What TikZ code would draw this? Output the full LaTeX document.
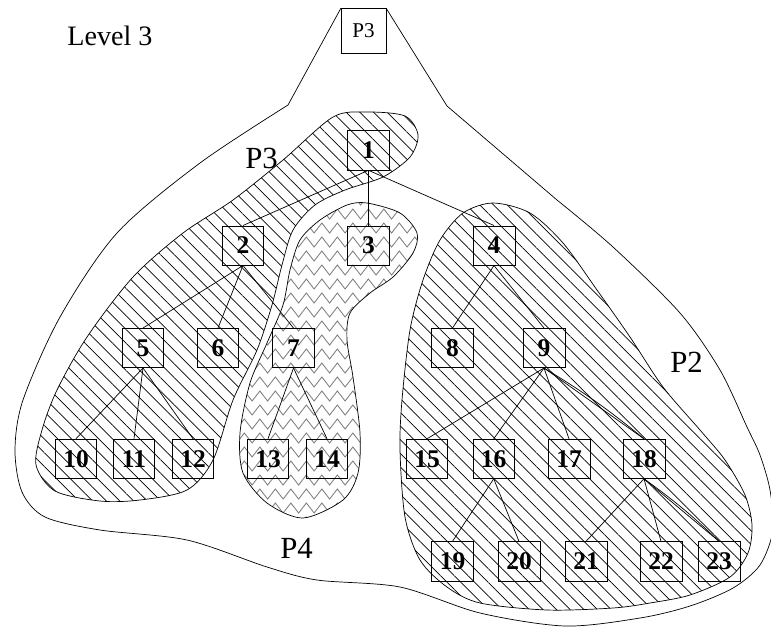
\documentclass[tikz,border=0pt]{standalone}
\usepackage{fontspec}
\setmainfont{Liberation Serif}
\usetikzlibrary{patterns.meta,decorations.pathmorphing}

\tikzset{
  box/.style={draw, minimum width=0.834cm, minimum height=0.786cm, inner sep=0pt,
    font=\fontsize{14.5}{16}\selectfont\bfseries},
  part/.style={anchor=base west, inner sep=0pt, font=\fontsize{17.5}{20}\selectfont},
  hatch/.style={draw, pattern={Lines[angle=-45,distance=5.5pt,line width=0.4pt]}},
  wave/.style={gray, line width=0.5pt, decorate,
    decoration={zigzag, segment length=0.31cm, amplitude=0.1cm}}
}

\begin{document}
\begin{tikzpicture}[x=0.02cm, y=-0.02cm]
\useasboundingbox (0,0) rectangle (771,627);

% Level 3 outline, hanging from the P3 box
\draw (341,8) -- (288,105) -- plot[smooth] coordinates {(288,105) (200,163) (117,233) (60,317)
  (23,400) (15,450) (22,492) (45,517) (100,530) (187,540) (267,567) (317,580) (400,587)
  (480,613) (565,626) (640,618) (690,606) (733,588) (760,565) (773,530) (770,490) (760,455)
  (747,427) (720,370) (680,313) (613,247) (557,200)} -- (447,106) -- (386,8);

% Part P3 (hatched)
\path[hatch] plot[smooth cycle] coordinates {(333,117) (367,112) (405,116) (418,135) (410,157)
  (383,177) (345,190) (315,205) (293,230) (282,265) (272,305) (257,350) (233,400) (213,460)
  (187,490) (140,500) (100,501) (55,491) (36,465) (42,430) (57,390) (87,337) (133,277)
  (183,233) (233,200) (283,160)};

% Part P4 (zigzag)
\begin{scope}
\clip plot[smooth cycle] coordinates {(347,205) (367,203) (400,213) (417,233) (413,253) (393,277)
  (370,293) (350,313) (347,340) (353,377) (360,433) (358,473) (343,500) (303,518) (267,503)
  (243,473) (240,433) (250,383) (267,343) (283,305) (290,270) (300,240) (320,220)};
\foreach \y in {200,214,...,530}
  \draw[wave] (225,\y) -- (435,\y);
\end{scope}
\draw plot[smooth cycle] coordinates {(347,205) (367,203) (400,213) (417,233) (413,253) (393,277)
  (370,293) (350,313) (347,340) (353,377) (360,433) (358,473) (343,500) (303,518) (267,503)
  (243,473) (240,433) (250,383) (267,343) (283,305) (290,270) (300,240) (320,220)};

% Part P2 (hatched)
\path[hatch] plot[smooth cycle] coordinates {(493,203) (530,213) (563,243) (597,290) (630,337)
  (663,387) (700,430) (725,460) (745,495) (752,525) (748,553) (730,577) (690,595) (650,603)
  (613,608) (547,610) (480,603) (447,587) (420,560) (405,517) (400,450) (402,400) (410,330)
  (423,280) (440,240) (463,213)};

% Labels
\node[part, font=\fontsize{16}{18}\selectfont] (lvl) at (67,45) {Level 3};
\node[part] (p3) at (245,168) {P3};
\node[part] (p2) at (670,372) {P2};
\node[part] (p4) at (280,558) {P4};
\node[box, minimum size=0.9cm, font=\fontsize{12}{14}\selectfont] (top) at (363.5,30.5) {P3};

% Vertices
\foreach \n/\x/\y in {1/368.5/150.3, 2/243/245.5, 3/368.5/245.5, 4/494/245.5,
    5/143/348, 6/218/348, 7/293.5/348, 8/452.5/348, 9/544/348,
    10/76/458.7, 11/134/458.7, 12/193/458.7, 13/268/458.7, 14/327/458.7,
    15/427/458.8, 16/493.7/458.8, 17/569/458.8, 18/644/458.8,
    19/452.5/561.3, 20/519/561.3, 21/586/561.3, 22/661/561.3, 23/719/561.3}
  \node[box] (n\n) at (\x,\y) {\n};

% Edges
\foreach \a/\b in {1/2, 1/3, 1/4, 2/5, 2/6, 2/7, 4/8, 4/9, 5/10, 5/11, 5/12, 7/13, 7/14,
    9/15, 9/16, 9/17, 9/18, 16/19, 16/20, 18/21, 18/22, 18/23}
  \draw (n\a.south) -- (n\b.north);
\draw (n9.south) to[bend left=4] (n18.north);
\draw (n18.south) to[bend left=4] (n23.north);

\end{tikzpicture}
\end{document}
